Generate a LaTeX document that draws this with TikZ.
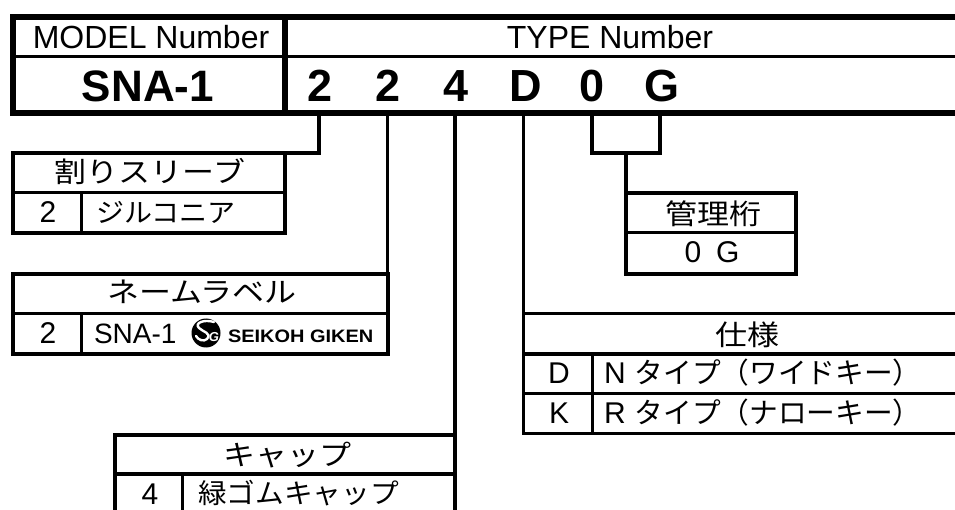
\documentclass[tikz,border=0pt]{standalone}
\usepackage{fontspec}
\setmainfont{Liberation Sans}
\newfontfamily\cjk{Noto Sans CJK JP}
\newcommand{\fs}[1]{\fontsize{#1}{#1}\selectfont}
\tikzset{
  heavy/.style={line width=6pt},
  medium/.style={line width=4pt},
  thin rule/.style={line width=3pt},
  link/.style={line width=3.5pt,line cap=rect,line join=miter},
  frame/.style={draw,line width=4pt,inner sep=0pt,outer sep=0pt,rectangle},
  txt/.style={inner sep=0pt,outer sep=0pt,anchor=base},
  txtl/.style={inner sep=0pt,outer sep=0pt,anchor=base west},
  big/.style={txt,font=\fs{32}},
  bold/.style={txt,font=\fs{45}\bfseries},
  jphead/.style={txt,font=\fs{32}\cjk,yscale=0.88},
  jprow/.style={txtl,font=\fs{28}\cjk,yscale=0.95},
  num/.style={txt,font=\fs{30}},
}
\begin{document}
\begin{tikzpicture}[x=1pt,y=-1pt]
\useasboundingbox (0,0) rectangle (955,510);
\clip (0,0) rectangle (955,510);
% header
\node[frame,heavy,minimum width=962pt,minimum height=96pt] (head) at (494,65) {};
\coordinate (hl) at (13,56.5);
\coordinate (hr) at (975,56.5);
\draw[thin rule] (hl) -- (hr);
\coordinate (dt) at (285,17);
\coordinate (db) at (285,113);
\draw[heavy] (dt) -- (db);
\node[big] (model) at (151,49) {MODEL Number};
\node[big] (type) at (610,49) {TYPE Number};
\node[bold,font=\fs{44}\bfseries] (sna) at (148,101.5) {SNA-1};
\node[bold] (d1) at (320.5,101.5) {2};
\node[bold] (d2) at (388,101.5) {2};
\node[bold] (d3) at (456.5,101.5) {4};
\node[bold] (d4) at (525.5,101.5) {D};
\node[bold] (d5) at (592.5,101.5) {0};
\node[bold] (d6) at (661.5,101.5) {G};
% sleeve box
\node[frame,minimum width=272.5pt,minimum height=80pt] (sleeve) at (148.75,193) {};
\coordinate (sl) at (12.5,193);
\coordinate (sr) at (285,193);
\draw[thin rule] (sl) -- (sr);
\coordinate (sa) at (81,193);
\coordinate (sb) at (81,233);
\draw[thin rule] (sa) -- (sb);
\node[jphead] (sleevet) at (150,183) {割りスリーブ};
\node[num] (sleeven) at (48,223) {2};
\node[jprow] (sleevem) at (96,223) {ジルコニア};
% label box
\node[frame,minimum width=375pt,minimum height=80pt] (label) at (200,314) {};
\coordinate (ll) at (12.5,313.5);
\coordinate (lr) at (387.5,313.5);
\draw[thin rule] (ll) -- (lr);
\coordinate (la) at (81,313.5);
\coordinate (lb) at (81,354);
\draw[thin rule] (la) -- (lb);
\node[jphead] (labelt) at (202,303) {ネームラベル};
\node[num] (labeln) at (48,343) {2};
\node[txtl,font=\fs{28}] (labelm) at (94,343) {SNA-1};
\node[circle,fill=black,minimum size=29pt,inner sep=0pt] (logo) at (206,333) {};
\coordinate (sa1) at (214,322);
\coordinate (sa2) at (196,336);
\draw[white,line width=2.4pt,line cap=round] (sa1) .. controls (204,319) and (194,323) .. (199,328) .. controls (203,332) and (212,333) .. (207,339) .. controls (204,342) and (198,340) .. (sa2);
\node[inner sep=0pt,text=white,font=\fs{13}\bfseries\itshape] (logog) at (214,337) {G};
\node[txtl,font=\fs{18}\bfseries,xscale=1.11] (logot) at (228,342) {SEIKOH GIKEN};
% cap box
\node[frame,minimum width=340pt,minimum height=80pt] (capb) at (285,474.5) {};
\coordinate (cl) at (115,474);
\coordinate (cr) at (455,474);
\draw[line width=4pt] (cl) -- (cr);
\coordinate (ca) at (182.5,474);
\coordinate (cb) at (182.5,514);
\draw[thin rule] (ca) -- (cb);
\node[jphead] (capt) at (287,465) {キャップ};
\node[num] (capn) at (150,504) {4};
\node[jprow,font=\fs{28.7}\cjk] (capm) at (198,503) {緑ゴムキャップ};
% admin box
\node[frame,minimum width=170pt,minimum height=81pt] (admin) at (711,233.5) {};
\coordinate (al) at (626,232.5);
\coordinate (ar) at (796,232.5);
\draw[thin rule] (al) -- (ar);
\node[jphead] (admint) at (713,225) {管理桁};
\node[num] (adminm) at (712,263) {0\hspace{15pt}G};
% spec box
\node[frame,line width=3.5pt,minimum width=451.5pt,minimum height=120pt] (spec) at (749.25,373.5) {};
\coordinate (pl) at (523.5,354);
\coordinate (pr) at (975,354);
\draw[medium] (pl) -- (pr);
\coordinate (ql) at (523.5,393);
\coordinate (qr) at (975,393);
\draw[thin rule] (ql) -- (qr);
\coordinate (pa) at (592,354);
\coordinate (pb) at (592,433.5);
\draw[thin rule] (pa) -- (pb);
\node[jphead] (spect) at (747,345) {仕様};
\node[num] (specd) at (559,383) {D};
\node[num] (speck) at (559,423) {K};
\node[txtl,font=\fs{30}] (specn) at (604,383) {N\hspace{9pt}{\fs{28.7}\cjk タイプ（ワイドキー）}};
\node[txtl,font=\fs{30}] (specr) at (604,423) {R\hspace{9pt}{\fs{28.7}\cjk タイプ（ナローキー）}};
% connectors
\coordinate (t1) at (319,113);
\coordinate (t2) at (387.5,113);
\coordinate (t3) at (455,113);
\coordinate (t4) at (523.5,113);
\coordinate (t5) at (592,113);
\coordinate (t6) at (660,113);
\draw[link,line width=4pt] (t1) |- (sleeve.north east);
\draw[link] (t2) -- (label.north east);
\draw[link] (t3) -- (capb.north east);
\draw[link] (t4) -- (spec.north west);
\coordinate (bm) at (626,153);
\draw[link,line width=4pt] (t5) |- (bm) -| (t6);
\draw[link,line width=4pt] (bm) -- (admin.north west);
\end{tikzpicture}
\end{document}
